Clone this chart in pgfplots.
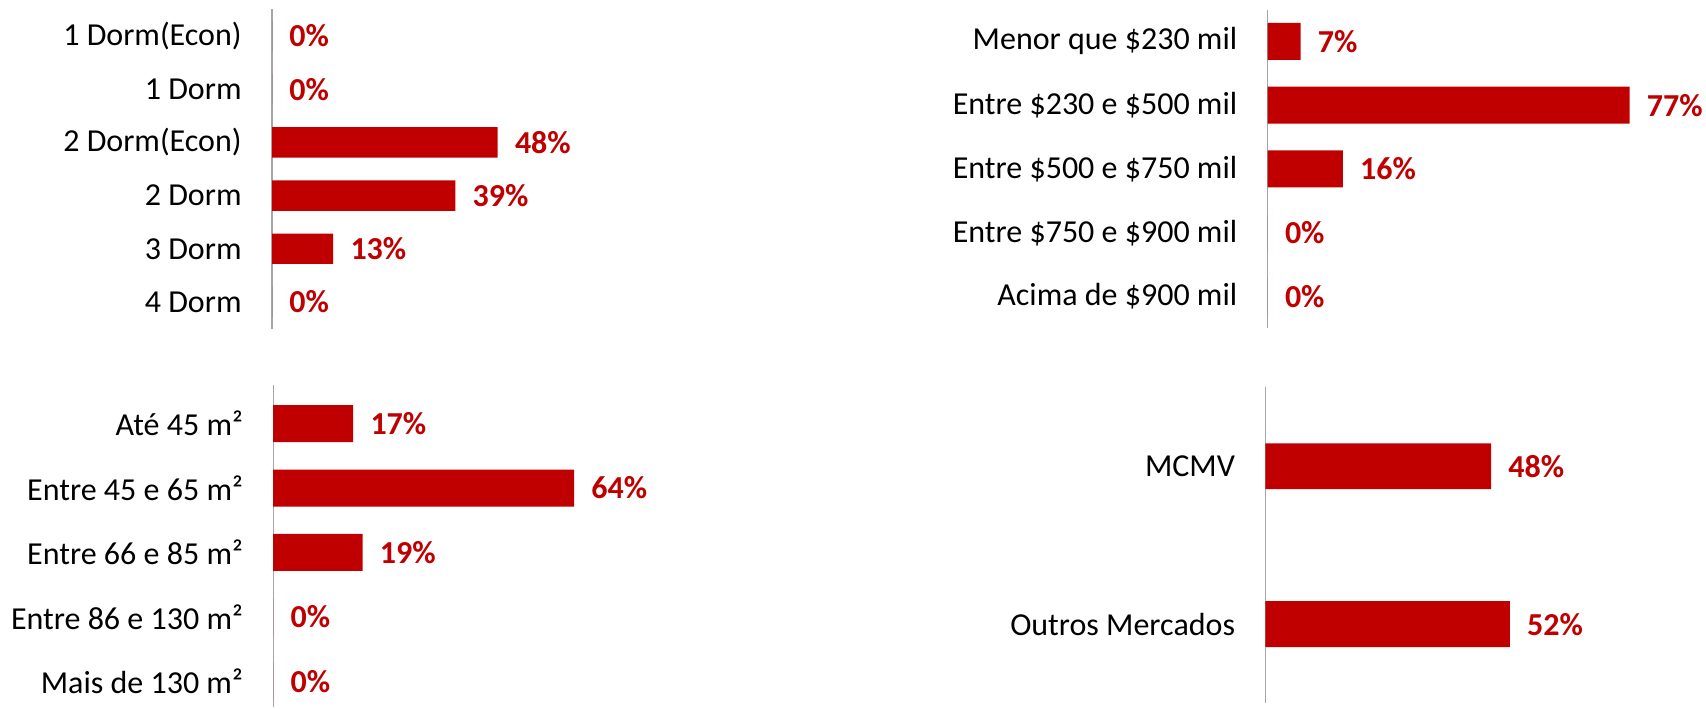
\documentclass[border=0pt]{standalone}
\usepackage{fontspec}
\setmainfont{Carlito}
\usepackage{pgfplots}
\pgfplotsset{compat=1.18}
\definecolor{barred}{HTML}{C00000}
\definecolor{axisgray}{HTML}{A6A6A6}

\pgfplotsset{
  panel/.style={
    xbar, scale only axis, y dir=reverse,
    xmin=0, xmax=100, width=235pt,
    axis x line=none, axis y line=left,
    axis line style={-, draw=axisgray, line width=0.6pt},
    ytick=data, major tick length=0pt,
    yticklabel style={font=\fontsize{16}{18}\selectfont, inner sep=0pt, anchor=east, xshift=-15pt},
    bar shift=0pt,
    point meta=x,
    /pgf/number format/assume math mode=true,
    nodes near coords={\pgfmathprintnumber[fixed,precision=0,assume math mode=true]{\pgfplotspointmeta}\%},
    every node near coord/.append style={font=\bfseries\fontsize{16}{18}\selectfont, color=barred, inner sep=0pt, anchor=west, xshift=8.5pt},
    clip=false,
  },
}

\begin{document}
\begin{tikzpicture}
\useasboundingbox (0pt,0pt) rectangle (853pt,354pt);

% tipologia
\begin{axis}[panel, at={(136pt,349.3pt)}, anchor=north west,
    height=159.6pt, ymin=-0.5, ymax=5.5, bar width=15.2pt,
    yticklabels={1 Dorm(Econ), 1 Dorm, 2 Dorm(Econ), 2 Dorm, 3 Dorm, 4 Dorm}]
\addplot[fill=barred, draw=none] coordinates {(0,0) (0,1) (48,2) (39,3) (13,4) (0,5)};
\end{axis}

% faixa de preco
\begin{axis}[panel, at={(633.8pt,349.25pt)}, anchor=north west,
    height=159.5pt, ymin=-0.5, ymax=4.5, bar width=18.5pt,
    yticklabels={Menor que \$230 mil, Entre \$230 e \$500 mil, Entre \$500 e \$750 mil, Entre \$750 e \$900 mil, Acima de \$900 mil}]
\addplot[fill=barred, draw=none] coordinates {(7,0) (77,1) (16,2) (0,3) (0,4)};
\end{axis}

% area
\begin{axis}[panel, at={(136.6pt,161.5pt)}, anchor=north west,
    height=161pt, ymin=-0.6, ymax=4.4, bar width=18.5pt,
    yticklabels={Até 45 m², Entre 45 e 65 m², Entre 66 e 85 m², Entre 86 e 130 m², Mais de 130 m²}]
\addplot[fill=barred, draw=none] coordinates {(17,0) (64,1) (19,2) (0,3) (0,4)};
\end{axis}

% mercado
\begin{axis}[panel, at={(632.7pt,160.3pt)}, anchor=north west,
    height=157.8pt, ymin=-0.5, ymax=1.5, bar width=22.9pt,
    yticklabels={MCMV, Outros Mercados}]
\addplot[fill=barred, draw=none] coordinates {(48,0) (52,1)};
\end{axis}
\end{tikzpicture}
\end{document}
